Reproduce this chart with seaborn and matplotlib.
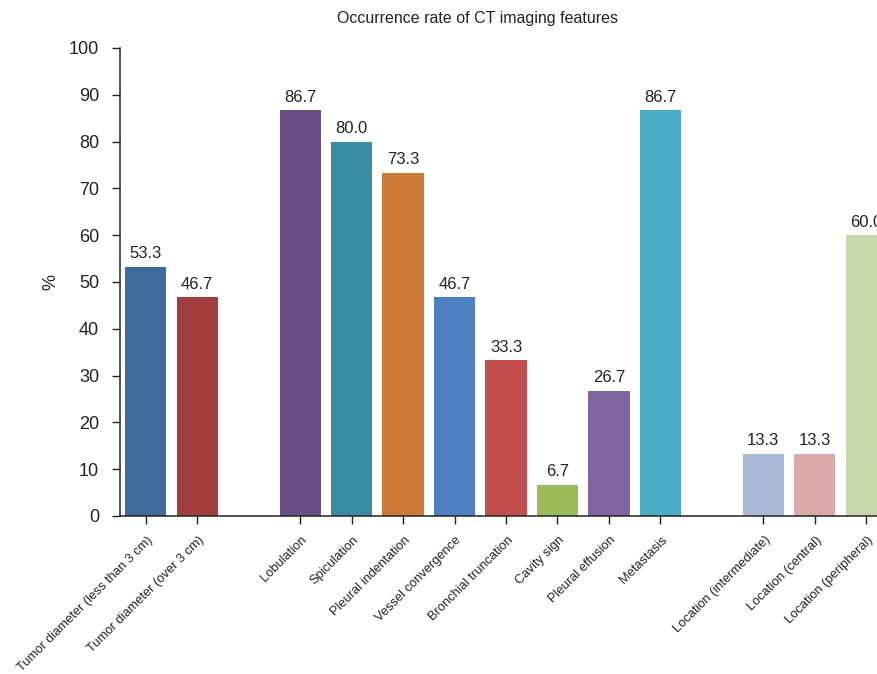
import matplotlib
matplotlib.use("Agg")
import matplotlib.pyplot as plt
import matplotlib.transforms as mtransforms
import seaborn as sns
import pandas as pd

# grupos de achados tomográficos (com espaço entre os grupos)
size_labels = ["Tumor diameter (less than 3 cm)", "Tumor diameter (over 3 cm)"]
size_values = [53.3, 46.7]

sign_labels = ["Lobulation", "Spiculation", "Pleural indentation", "Vessel convergence",
               "Bronchial truncation", "Cavity sign", "Pleural effusion", "Metastasis"]
sign_values = [86.7, 80.0, 73.3, 46.7, 33.3, 6.7, 26.7, 86.7]

loc_labels = ["Location (intermediate)", "Location (central)", "Location (peripheral)"]
loc_values = [13.3, 13.3, 60.0]

bar_colors = ["#3E6A9C", "#A13F3E",
              "#6A4E85", "#3A8BA4", "#CE7A36", "#4D80C0", "#C04F4D", "#9BBB59", "#8064A2", "#4BACC6",
              "#AAB9D7", "#DAA9A8", "#C8D8AD"]

categories = size_labels + sign_labels + loc_labels
values = size_values + sign_values + loc_values
df = pd.DataFrame({"feature": categories, "rate": values})
palette = dict(zip(categories, bar_colors))

# posições vazias separando os grupos
order = size_labels + [" "] + sign_labels + ["  "] + loc_labels

sns.set_style("ticks")
plt.rcParams["font.family"] = ["Liberation Sans", "DejaVu Sans"]

fig = plt.figure(figsize=(8.77, 6.74), dpi=100)
ax = fig.add_axes([120 / 877, 158 / 674, 772 / 877, 468 / 674])

sns.barplot(data=df, x="feature", y="rate", hue="feature", order=order,
            hue_order=categories, palette=palette, dodge=False, legend=False,
            width=0.8, saturation=1, linewidth=0, ax=ax)

for cont in ax.containers:
    ax.bar_label(cont, fmt="%.1f", padding=4, fontsize=12, color="#222222")

ax.set_xlim(-0.5, len(order) - 0.5)
ax.set_ylim(0, 100)
ax.set_yticks(range(0, 101, 10))
ax.tick_params(axis="y", labelsize=13, length=6, width=1, pad=9, colors="#222222")
ax.tick_params(axis="x", length=6, width=1, pad=10, colors="#222222")

pos = [order.index(c) for c in categories]
ax.set_xticks(pos)
ax.set_xticklabels(categories, rotation=45, ha="right", va="center",
                   rotation_mode="anchor", fontsize=9.3, color="#222222")
shift = mtransforms.ScaledTranslation(5 / 100, 0, fig.dpi_scale_trans)
for lab in ax.get_xticklabels():
    lab.set_transform(lab.get_transform() + shift)

ax.set_xlabel("")
ax.set_ylabel("%", fontsize=13, labelpad=7, color="#222222")
for s in ["left", "bottom"]:
    ax.spines[s].set_linewidth(1.1)
    ax.spines[s].set_color("#222222")
sns.despine(ax=ax)

fig.text(0.545, 1 - 18 / 674, "Occurrence rate of CT imaging features",
         ha="center", va="center", fontsize=11.5, color="#222222")

fig.savefig("out.png", dpi=100)
